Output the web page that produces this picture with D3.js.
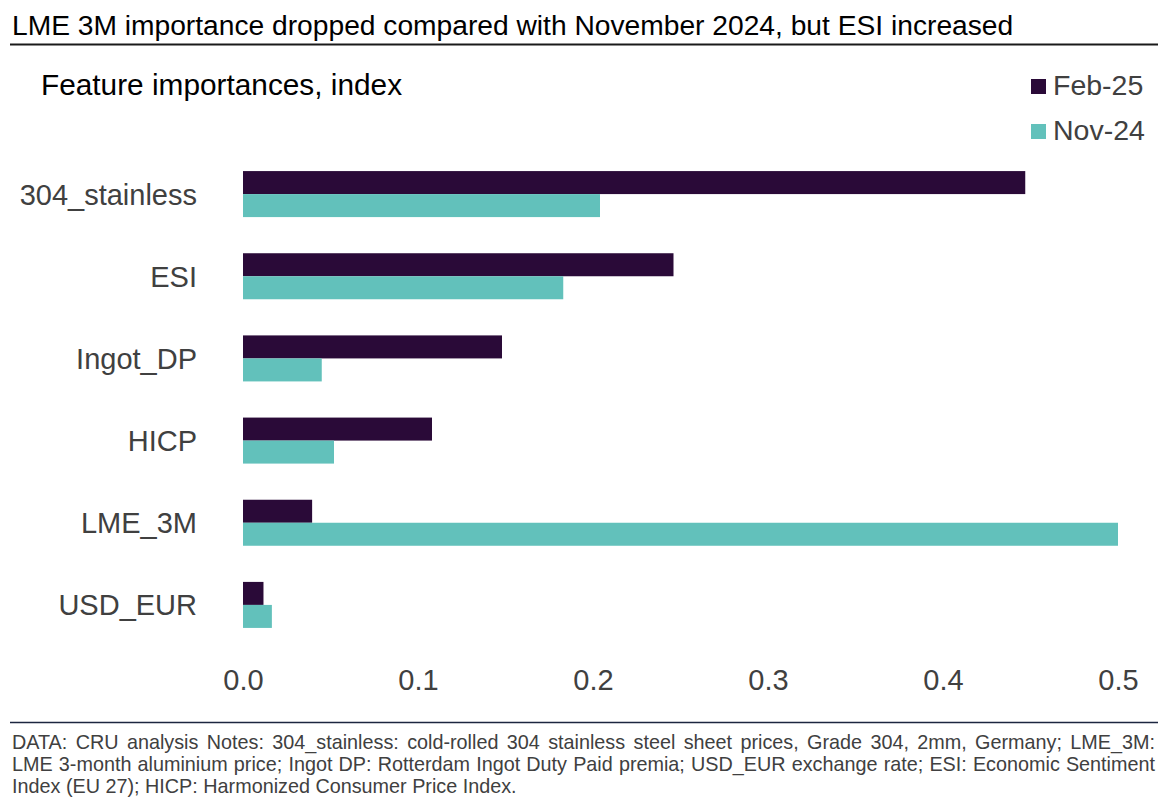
<!DOCTYPE html>
<html>
<head>
<meta charset="utf-8">
<script src="https://cdn.jsdelivr.net/npm/d3@7"></script>
<style>
  body { margin: 0; background: #fff; }
  svg { display: block; font-family: "Liberation Sans", Arial, Helvetica, sans-serif; }
</style>
</head>
<body>
<div id="chart"></div>
<script>
const categories = ["304_stainless", "ESI", "Ingot_DP", "HICP", "LME_3M", "USD_EUR"];
const seriesNames = ["Feb-25", "Nov-24"];
const feb25 = [0.447, 0.246, 0.148, 0.108, 0.0395, 0.0117];
const nov24 = [0.204, 0.183, 0.045, 0.052, 0.5, 0.0165];
const xTicks = [0, 0.1, 0.2, 0.3, 0.4, 0.5];

const titleText = "LME 3M importance dropped compared with November 2024, but ESI increased";
const subtitleText = "Feature importances, index";
const footLines = [
  "DATA: CRU analysis Notes: 304_stainless: cold-rolled 304 stainless steel sheet prices, Grade 304, 2mm, Germany; LME_3M:",
  "LME 3-month aluminium price; Ingot DP: Rotterdam Ingot Duty Paid premia; USD_EUR exchange rate; ESI: Economic Sentiment",
  "Index (EU 27); HICP: Harmonized Consumer Price Index."
];

const width = 1170, height = 798;
const colors = { "Feb-25": "#2a0a38", "Nov-24": "#62c1bb" };
const textGrey = "#404040";

const svg = d3.select("#chart").append("svg")
  .attr("width", width)
  .attr("height", height);

// title + rule
svg.append("text")
  .attr("x", 12)
  .attr("y", 35)
  .style("font-size", "28.2px")
  .attr("fill", "#000")
  .text(titleText);

svg.append("line")
  .attr("x1", 10).attr("x2", 1158)
  .attr("y1", 44.5).attr("y2", 44.5)
  .attr("stroke", "#1a1a1a")
  .attr("stroke-width", 2);

svg.append("text")
  .attr("x", 41)
  .attr("y", 95)
  .style("font-size", "29.8px")
  .attr("fill", "#000")
  .text(subtitleText);

// scales
const x = d3.scaleLinear().domain([0, 0.5]).range([243, 1118]);

const y = d3.scaleBand()
  .domain(categories)
  .range([153, 646])
  .paddingInner(0.44)
  .paddingOuter(0.22);

const ySub = d3.scaleBand()
  .domain(seriesNames)
  .range([0, y.bandwidth()]);

const rows = categories.map((c, i) => ({
  key: c,
  values: [
    { series: "Feb-25", value: feb25[i] },
    { series: "Nov-24", value: nov24[i] },
  ],
}));

svg.append("g")
  .selectAll("g")
  .data(rows)
  .join("g")
  .attr("transform", (d) => `translate(0, ${y(d.key)})`)
  .selectAll("rect")
  .data((d) => d.values)
  .join("rect")
  .attr("x", x(0))
  .attr("y", (d) => ySub(d.series))
  .attr("width", (d) => x(d.value) - x(0))
  .attr("height", ySub.bandwidth())
  .attr("fill", (d) => colors[d.series]);

// category labels
const yAxis = svg.append("g")
  .attr("transform", "translate(197, 0)")
  .call(d3.axisLeft(y).tickSize(0).tickPadding(0));
yAxis.select(".domain").remove();
yAxis.selectAll("text")
  .style("font-size", "29px")
  .style("font-family", "Liberation Sans, Arial, sans-serif")
  .attr("fill", textGrey)
  .attr("dy", "0.36em");

// x axis
const xAxis = svg.append("g")
  .attr("transform", "translate(0, 646)")
  .call(d3.axisBottom(x).tickValues(xTicks).tickFormat(d3.format(".1f")).tickSize(0).tickPadding(23));
xAxis.select(".domain").remove();
xAxis.selectAll("text")
  .style("font-size", "29px")
  .style("font-family", "Liberation Sans, Arial, sans-serif")
  .attr("fill", textGrey);

// legend
const legend = svg.append("g")
  .selectAll("g")
  .data(seriesNames)
  .join("g")
  .attr("transform", (d, i) => `translate(1031, ${79 + i * 45})`);

legend.append("rect")
  .attr("width", 15)
  .attr("height", 15)
  .attr("fill", (d) => colors[d]);

legend.append("text")
  .attr("x", 22)
  .attr("y", 16)
  .style("font-size", "28.5px")
  .attr("fill", textGrey)
  .text((d) => d);

// bottom rule + notes
svg.append("line")
  .attr("x1", 10).attr("x2", 1158)
  .attr("y1", 722.5).attr("y2", 722.5)
  .attr("stroke", "#1c2640")
  .attr("stroke-width", 1.5);

const footLeft = 12, footRight = 1155;
svg.append("g")
  .selectAll("text")
  .data(footLines)
  .join("text")
  .attr("x", footLeft)
  .attr("y", (d, i) => 749 + i * 22)
  .style("font-size", "19.8px")
  .attr("fill", textGrey)
  .text((d) => d)
  .each(function (d, i) {
    // justify every line but the last
    if (i === footLines.length - 1) return;
    const natural = this.getComputedTextLength();
    const gaps = d.split(" ").length - 1;
    const extra = (footRight - footLeft - natural) / gaps;
    d3.select(this).style("word-spacing", extra + "px");
  });
</script>
</body>
</html>
